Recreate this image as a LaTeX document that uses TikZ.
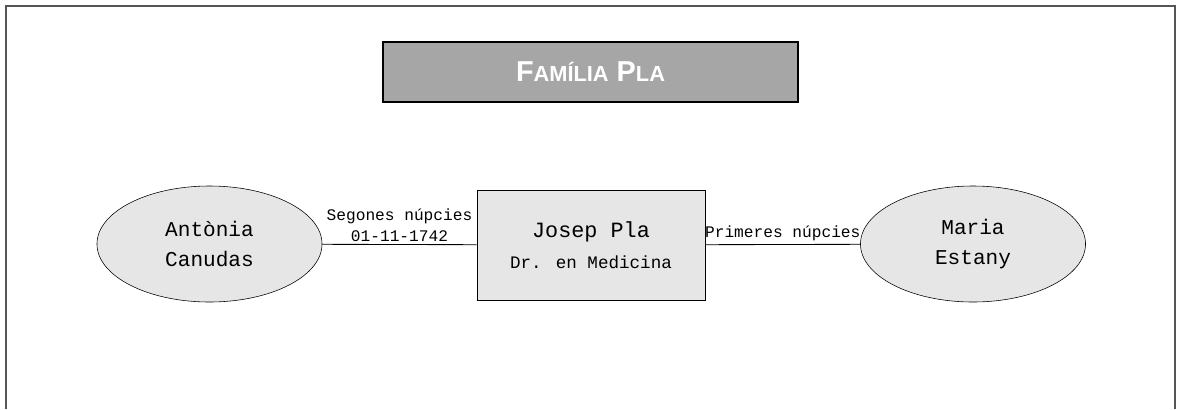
\documentclass[tikz,border=0pt]{standalone}
\usepackage{fontspec}
\newfontfamily\monof{Liberation Mono}
\newfontfamily\sansf{Liberation Sans}
\usetikzlibrary{shapes.geometric,positioning}
\definecolor{boxgray}{HTML}{E6E6E6}
\definecolor{titlegray}{HTML}{A6A6A6}
\definecolor{framegray}{HTML}{555555}

\begin{document}
\begin{tikzpicture}[
  x=0.025cm, y=-0.025cm,
  person/.style={draw, ellipse, fill=boxgray, minimum width=5.625cm,
    minimum height=2.9cm, align=center, inner sep=0pt,
    font=\monof\fontsize{15}{21}\selectfont},
  mainbox/.style={draw, rectangle, fill=boxgray, minimum width=5.7cm,
    minimum height=2.75cm, align=center,
    font=\monof\fontsize{15.5}{20}\selectfont},
  titlebox/.style={draw, line width=1.5pt, fill=titlegray, minimum width=10.375cm,
    minimum height=1.5cm, text=white, font=\sansf\bfseries\fontsize{20.5}{24}\selectfont},
  wedlabel/.style={align=center, inner sep=2pt, font=\monof\fontsize{11.5}{14.5}\selectfont},
  link/.style={line width=0.6pt}
]
\useasboundingbox (0,0) rectangle (1177,409);
\draw[framegray, line width=1.3pt] (6,409) -- (6,6) -- (1175,6) -- (1175,409);

\node[titlebox] (title) at (590.5,72) {F{\fontsize{15.5}{18}\selectfont AMÍLIA} P{\fontsize{15.5}{18}\selectfont LA}};

\node[mainbox] (josep) at (591,245) {Josep Pla\\[2pt]{\fontsize{12.5}{15}\selectfont Dr. en Medicina}};
\node[person] (antonia) at (209.5,244) {Antònia\\Canudas};
\node[person] (maria) at (973,244) {Maria\\Estany};

\draw[link] (antonia) -- node[wedlabel, above] (segones) {Segones núpcies\\01-11-1742} (josep);
\draw[link] (josep) -- node[wedlabel, above] (primeres) {Primeres núpcies} (maria);
\end{tikzpicture}
\end{document}
